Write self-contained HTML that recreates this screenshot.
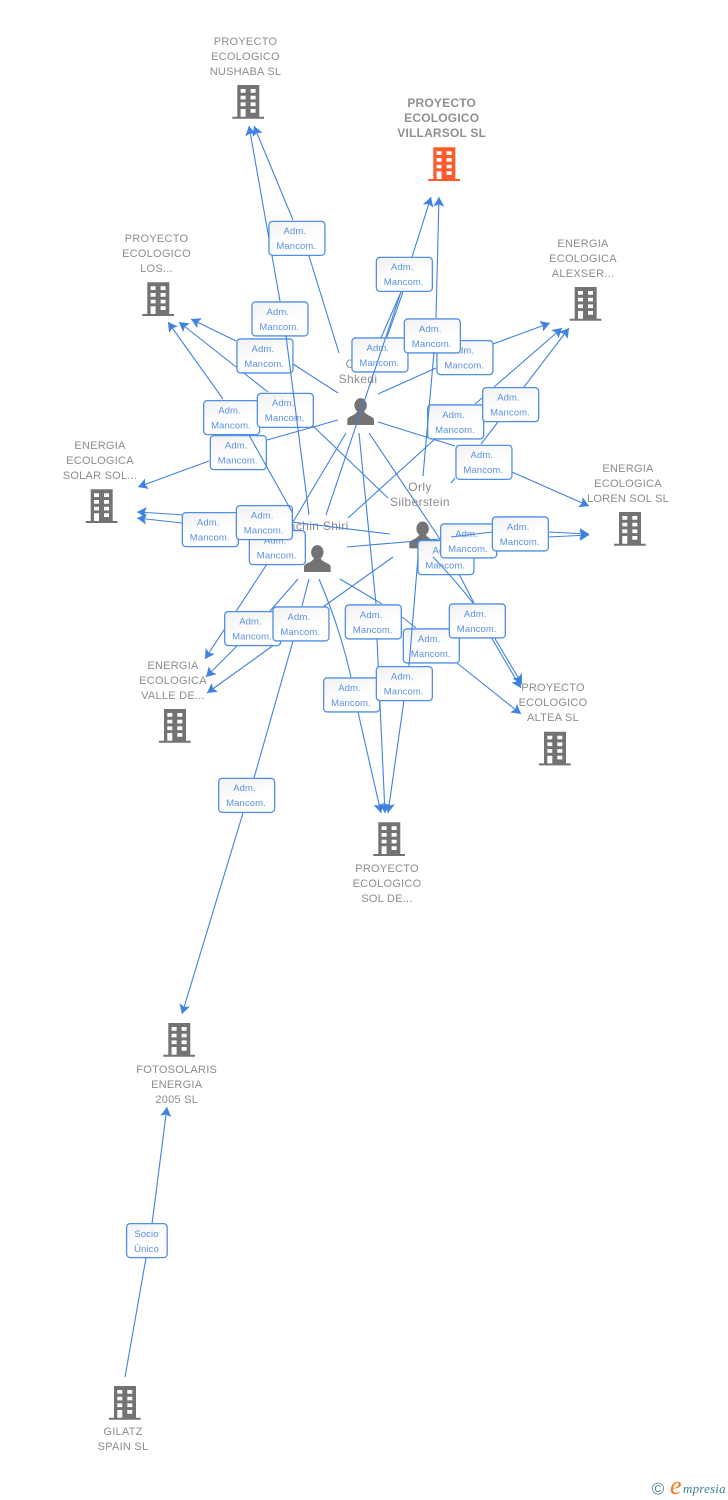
<!DOCTYPE html>
<html><head><meta charset="utf-8">
<style>
html,body{margin:0;padding:0;background:#fff;width:728px;height:1500px;overflow:hidden}
svg{display:block;position:absolute;left:0;top:0}
.n{font:11px "Liberation Sans",sans-serif;fill:#8c8c8c;text-anchor:middle;letter-spacing:.25px}
.v{font:bold 12px "Liberation Sans",sans-serif;fill:#909090;text-anchor:middle;letter-spacing:.2px}
.p{font:12px "Liberation Sans",sans-serif;fill:#8c8c8c;text-anchor:middle;letter-spacing:.35px}
.t{font:9.5px "Liberation Sans",sans-serif;fill:#5a91e2;text-anchor:middle;letter-spacing:.1px}
.l{fill:none;stroke:#3f82e0;stroke-width:1.1}
.b{fill:url(#g);stroke:#4f8fe4;stroke-width:1.3}
</style></head><body>
<svg width="728" height="1500" viewBox="0 0 728 1500" xmlns="http://www.w3.org/2000/svg">
<defs>
<linearGradient id="g" x1="0" y1="0" x2="0.5" y2="1"><stop offset="0" stop-color="#f1f1f1"/><stop offset=".7" stop-color="#fff"/></linearGradient>
<marker id="a" markerUnits="userSpaceOnUse" markerWidth="11" markerHeight="12" refX="9.5" refY="5.5" orient="auto"><path d="M9.5,5.5 L0,0 L2,5.5 L0,11 Z" fill="#3f82e0"/></marker>
<g id="bd"><path fill-rule="evenodd" d="M0,0H22V31.7H26.7V33.7H-5V31.7H0ZM3.3,4V7.7H8.3V4ZM13.3,4V7.7H18.3V4ZM3.3,10.7V14.4H8.3V10.7ZM13.3,10.7V14.4H18.3V10.7ZM3.3,17.4V21.1H8.3V17.4ZM13.3,17.4V21.1H18.3V17.4ZM3.3,24V31.7H8.3V24ZM13.3,24V27.7H18.3V24Z"/></g>
<g id="pr"><ellipse cx="13.3" cy="7" rx="6.2" ry="7.2"/><path d="M0,26.7V21.5C0,18 8,17.5 10,13H16.7C18.7,17.5 26.7,18 26.7,21.5V26.7Z"/></g>
<g id="bx"><rect class="b" x=".65" y=".65" width="56" height="34" rx="3.5"/><text class="t" x="26.5" y="13.5">Adm.</text><text class="t" x="28" y="28.5">Mancom.</text></g>
</defs>

<!-- nodes -->
<g fill="#737373">
<use href="#bd" x="237.3" y="85"/>
<use href="#bd" x="147.3" y="282.3"/>
<use href="#bd" x="574.7" y="287"/>
<use href="#bd" x="619" y="512"/>
<use href="#bd" x="90.7" y="489.3"/>
<use href="#bd" x="164" y="709"/>
<use href="#bd" x="378.3" y="822.3"/>
<use href="#bd" x="544" y="731.7"/>
<use href="#bd" x="168.3" y="1023"/>
<use href="#bd" x="114" y="1386"/>
<use href="#bd" x="433.3" y="147.3" fill="#ff5a2c"/>
<use href="#pr" x="347.3" y="398.3"/>
<use href="#pr" x="304" y="545.3"/>
<use href="#pr" x="409.3" y="521.7"/>
</g>

<text class="n" x="245.5" y="45">PROYECTO</text><text class="n" x="245.5" y="60">ECOLOGICO</text><text class="n" x="245.5" y="75">NUSHABA SL</text>
<text class="v" x="441.7" y="107">PROYECTO</text><text class="v" x="441.7" y="122">ECOLOGICO</text><text class="v" x="441.7" y="137">VILLARSOL SL</text>
<text class="n" x="156.5" y="242">PROYECTO</text><text class="n" x="156.5" y="257">ECOLOGICO</text><text class="n" x="156.5" y="272">LOS...</text>
<text class="n" x="583" y="247">ENERGIA</text><text class="n" x="583" y="262">ECOLOGICA</text><text class="n" x="583" y="277">ALEXSER...</text>
<text class="n" x="628" y="472">ENERGIA</text><text class="n" x="628" y="487">ECOLOGICA</text><text class="n" x="628" y="502">LOREN SOL SL</text>
<text class="n" x="100" y="449">ENERGIA</text><text class="n" x="100" y="464">ECOLOGICA</text><text class="n" x="100" y="479">SOLAR SOL...</text>
<text class="n" x="173" y="669">ENERGIA</text><text class="n" x="173" y="684">ECOLOGICA</text><text class="n" x="173" y="699">VALLE DE...</text>
<text class="n" x="387" y="872">PROYECTO</text><text class="n" x="387" y="887">ECOLOGICO</text><text class="n" x="387" y="902">SOL DE...</text>
<text class="n" x="553" y="691">PROYECTO</text><text class="n" x="553" y="706">ECOLOGICO</text><text class="n" x="553" y="721">ALTEA SL</text>
<text class="n" x="176.7" y="1073">FOTOSOLARIS</text><text class="n" x="176.7" y="1088">ENERGIA</text><text class="n" x="176.7" y="1103">2005 SL</text>
<text class="n" x="123" y="1435">GILATZ</text><text class="n" x="123" y="1450">SPAIN SL</text>
<text class="p" x="358" y="368">Ofer</text><text class="p" x="358" y="383">Shkedi</text>
<text class="p" x="420" y="491">Orly</text><text class="p" x="420" y="506">Silberstein</text>
<text class="p" x="315" y="530">Yachin Shiri</text>

<!-- connectors under labels -->
<g class="l">
<polyline points="339,353 309,256" /><polyline points="293,220 254,126" marker-end="url(#a)"/>
<polyline points="280,301 249,126" marker-end="url(#a)"/>
<polyline points="412,257 431,197" marker-end="url(#a)"/>
<polyline points="401,292 380,340"/><polyline points="403,292 387,337"/>
<polyline points="436,318 439,197" marker-end="url(#a)"/>
<polyline points="223,399 168,322" marker-end="url(#a)"/>
<polyline points="268,392 179,322" marker-end="url(#a)"/>
<polyline points="236,341 191,319" marker-end="url(#a)"/>
<polyline points="293,364 338,393"/>
<polyline points="313,426 388,498"/>
<polyline points="209,461 138,487" marker-end="url(#a)"/>
<polyline points="267,440 338,420"/>
<polyline points="235,518 137,512" marker-end="url(#a)"/>
<polyline points="182,523 137,518" marker-end="url(#a)"/>
<polyline points="292,522 390,534"/>
<polyline points="346,433 293,522"/>
<polyline points="267,564 205,659" marker-end="url(#a)"/>
<polyline points="493,344 550,323" marker-end="url(#a)"/>
<polyline points="436,368 378,394"/>
<polyline points="494,387 562,328" marker-end="url(#a)"/>
<polyline points="475,404 482,398"/>
<polyline points="435,439 348,518"/>
<polyline points="524,387 569,328" marker-end="url(#a)"/>
<polyline points="498,422 481,444"/>
<polyline points="455,478 451,483"/>
<polyline points="512,472 589,506" marker-end="url(#a)"/>
<polyline points="455,446 378,422"/>
<polyline points="548,532 589,534" marker-end="url(#a)"/>
<polyline points="548,537 589,535" marker-end="url(#a)"/>
<polyline points="440,539 347,547"/>
<polyline points="369,433 440,539"/>
<polyline points="459,574 474,603"/>
<polyline points="491,637 521,688" marker-end="url(#a)"/>
<polyline points="494,637 522,684" marker-end="url(#a)"/>
<polyline points="457,663 521,714" marker-end="url(#a)"/>
<polyline points="402,617 416,628"/>
<polyline points="382,604 340,579"/>
<polyline points="358,712 381,813" marker-end="url(#a)"/>
<path d="M351,677 Q340,628 319,579"/>
<polyline points="377,639 385,813" marker-end="url(#a)"/>
<polyline points="376,604 359,433"/>
<polyline points="404,700 388,813" marker-end="url(#a)"/>
<polyline points="237,646 206,677" marker-end="url(#a)"/>
<polyline points="270,611 298,579"/>
<polyline points="393,557 323,607"/>
<polyline points="278,642 207,693" marker-end="url(#a)"/>
<polyline points="243,813 182,1014" marker-end="url(#a)"/>
<polyline points="254,778 293,641"/>
<polyline points="302,606 309,579"/>
<polyline points="125,1377 146,1258"/>
<polyline points="152,1224 167,1107" marker-end="url(#a)"/>
</g>

<!-- labels -->
<use href="#bx" x="268.3" y="220.7"/>
<use href="#bx" x="251.3" y="301.3"/>
<use href="#bx" x="375.7" y="256.7"/>
<use href="#bx" x="236.3" y="338.3"/>
<use href="#bx" x="203" y="400"/>
<use href="#bx" x="209.7" y="435"/>
<use href="#bx" x="256.7" y="392.7"/>
<use href="#bx" x="181.7" y="512"/>
<use href="#bx" x="248.7" y="530"/>
<use href="#bx" x="235.7" y="505"/>
<use href="#bx" x="351.3" y="337.3"/>
<use href="#bx" x="436.3" y="340"/>
<use href="#bx" x="403.7" y="318.3"/>
<use href="#bx" x="427" y="404.3"/>
<use href="#bx" x="482" y="387"/>
<use href="#bx" x="455.3" y="444.7"/>
<use href="#bx" x="417.3" y="540"/>
<use href="#bx" x="440" y="523.3"/>
<use href="#bx" x="491.7" y="516.3"/>
<use href="#bx" x="224" y="611"/>
<use href="#bx" x="272.3" y="606.3"/>
<use href="#bx" x="344.7" y="604.3"/>
<use href="#bx" x="402.7" y="628.3"/>
<use href="#bx" x="448.7" y="603.3"/>
<use href="#bx" x="323" y="677.3"/>
<use href="#bx" x="375.7" y="666"/>
<use href="#bx" x="218" y="777.7"/>
<rect class="b" x="126.6" y="1223.6" width="40.6" height="34" rx="3.5"/>
<text class="t" x="146.5" y="1237">Socio</text><text class="t" x="146.5" y="1252">Único</text>

<!-- connectors over labels -->
<g class="l">
<polyline points="286,336 309,515"/>
<polyline points="249,435 292,512"/>
<polyline points="326,515 401,292"/>
<polyline points="434,352 423,476"/>
<polyline points="492,532 451,537"/>
<path d="M433,557 Q455,580 473,603"/>
<polyline points="418,557 409,666"/>
</g>

<!-- logo -->
<text x="658" y="1494.5" font-family="Liberation Sans,sans-serif" font-size="17" fill="#4c7f93" text-anchor="middle">©</text>
<text x="670" y="1494" font-family="Liberation Serif,serif" font-style="italic" font-size="26" fill="#f07a1c">e</text>
<text x="683" y="1493" font-family="Liberation Serif,serif" font-style="italic" font-size="13" fill="#3f7f97" letter-spacing=".2">mpresia</text>
</svg>
</body></html>
